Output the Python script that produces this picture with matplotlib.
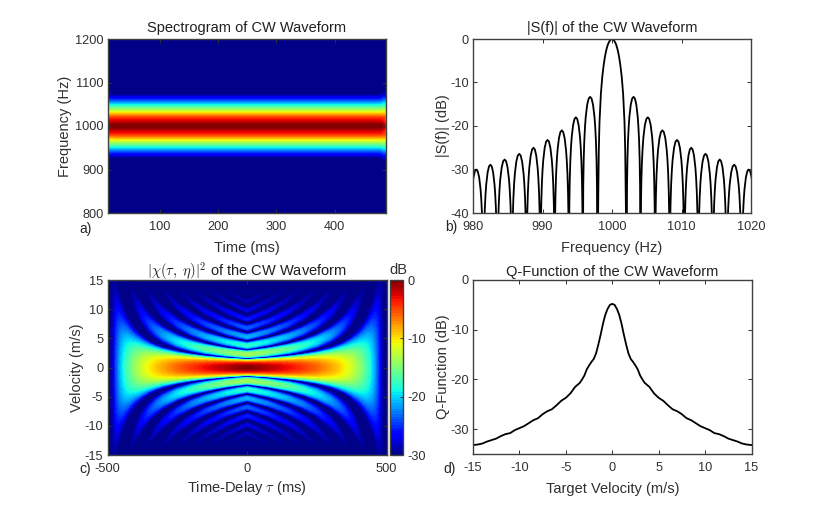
# CW waveform summary figure: spectrogram, spectrum, ambiguity map and Q-function
import numpy as np
import matplotlib
matplotlib.use("Agg")
from matplotlib import pyplot as plt

plt.rcParams['font.family'] = ['Liberation Sans', 'DejaVu Sans']
plt.rcParams['mathtext.fontset'] = 'cm'
plt.rcParams['font.size'] = 9
plt.rcParams['axes.linewidth'] = 1.0
plt.rcParams['axes.edgecolor'] = '#404040'
plt.rcParams['axes.unicode_minus'] = False

# a) spectrogram, level against distance from 1000 Hz
spec_offset_hz = [0, 5, 9, 17, 25, 32, 40, 47.6, 55, 63, 74, 100, 200]
spec_db = [0, -0.8, -2, -3.75, -7.5, -11.25, -15, -18.75, -22.5, -26.25, -30, -33, -40]
spec_time_ms = [10, 11.5, 14, 20, 478, 482, 485, 487.5]
spec_edge_db = [-1.5, -0.8, -0.2, 0, 0, -0.6, -1.5, -3.5]
spec_edge_width = [1.08, 1.05, 1.01, 1, 1, 1.05, 1.12, 1.22]

# b) spectrum, nulls and lobe peaks
main_null_hz = [998, 1002]
left_null_hz = [997.9, 995.8, 993.8, 991.75, 989.7, 987.7, 985.6, 983.5, 981.5, 979.45]
right_null_hz = [1002.1, 1004.1, 1006.2, 1008.3, 1010.4, 1012.4, 1014.5, 1016.5, 1018.65, 1020.7]
peak_db = [-13.3, -18, -21, -23.2, -25, -26.4, -27.7, -28.9, -30]
main_frac = [0, 0.1, 0.2, 0.3, 0.4, 0.5, 0.6, 0.7, 0.8, 0.9, 0.95, 0.98, 1.0]
main_drop = [0, -0.14, -0.6, -1.3, -2.4, -3.9, -6, -8.7, -12.6, -19.2, -25.6, -33.8, -39]
lobe_frac = [0, 0.03, 0.06, 0.1, 0.15, 0.2, 0.3, 0.4, 0.5, 0.6, 0.7, 0.8, 0.85, 0.9, 0.94, 0.97, 1.0]
lobe_drop = [-45, -20.5, -14.5, -10.2, -6.9, -4.6, -1.8, -0.4, 0, -0.4, -1.8, -4.6, -6.9, -10.2, -14.5, -20.5, -45]

# c) ambiguity map, read along the delay axis
delay_ms = [0, 25, 50, 75, 100, 150, 200, 250, 300, 325, 350, 375, 400, 420, 440, 455, 470, 480, 490, 500]
null_spacing = [1.5, 1.58, 1.67, 1.76, 1.88, 2.14, 2.5, 3.0, 3.75, 4.29, 5.0, 6.0, 7.5, 9.38, 12.5, 16.7, 25, 37.5, 75, 150]
ridge_top_db = [0, -0.45, -0.9, -1.4, -1.9, -3.1, -4.4, -6, -8, -9.1, -10.5, -12, -14, -16, -18.4, -21, -24.4, -28, -34, -60]
# sidelobe level against velocity
env_v = [0, 2.25, 3.75, 5.25, 6.75, 8.25, 9.75, 11.25, 12.75, 14.25, 20, 30, 60, 200, 1000]
env_db = [-8, -13.5, -17.9, -21, -23.5, -25.6, -27.2, -28.4, -29.3, -30, -33.5, -37, -43, -53, -67]
n_lobes = 10

# d) Q-function, positive velocities (the curve is mirrored about 0)
q_v = [0, 0.25, 0.5, 0.75, 1, 1.25, 1.5, 1.75, 2, 2.25, 2.5, 2.75, 3, 3.25, 3.5, 4, 4.5, 5, 5.5, 6,
       6.5, 7, 7.5, 8, 8.5, 9, 9.5, 10, 10.5, 11, 11.5, 12, 12.5, 13, 13.5, 14, 14.5, 15]
q_db = [-4.8, -5.0, -5.8, -7, -8.8, -11, -13, -14.8, -15.9, -16.5, -17.2, -18, -19.2, -20, -20.7, -21.5, -22.8, -23.7, -24.3, -25.2,
        -26, -26.4, -27, -27.8, -28.2, -28.8, -29.4, -29.8, -30.2, -30.8, -31, -31.4, -31.9, -32.2, -32.5, -32.9, -33.1, -33.2]

W, H = 830, 511
jet_levels = np.linspace(-30, 0, 65)


def box(left, top, right, bottom):
    # axes from pixel edges of the picture
    return fig.add_axes([left / W, 1 - bottom / H, (right - left) / W, (bottom - top) / H])


def style(ax, title, xlabel, ylabel, ylabel_px, title_pad=5, xlabel_pad=5.5):
    ax.tick_params(direction='in', length=3, width=0.7, top=True, right=True,
                   labelsize=9.2, colors='#303030')
    ax.tick_params(axis='x', pad=6)
    ax.tick_params(axis='y', pad=3)
    ax.set_title(title, fontsize=10.5, pad=title_pad, color='#202020')
    ax.set_xlabel(xlabel, fontsize=10.5, labelpad=xlabel_pad, color='#303030')
    ax.set_ylabel(ylabel, fontsize=10.5, color='#303030')
    bb = ax.get_position()
    ax.yaxis.set_label_coords((ylabel_px / W - bb.x0) / bb.width, 0.5)


fig = plt.figure(figsize=(W / 100, H / 100), dpi=100)

# a) ------------------------------------------------------------------
ax = box(107.5, 39, 385.5, 213)
off = np.array(spec_offset_hz, dtype=float)
rows = np.concatenate((-off[::-1], off[1:]))
lev = np.array(spec_db, dtype=float)
lev = np.concatenate((lev[::-1], lev[1:]))
T = np.array(spec_time_ms)[None, :] * np.ones((len(rows), 1))
F = 1000 + rows[:, None] * np.array(spec_edge_width)[None, :]
Z = lev[:, None] + np.array(spec_edge_db)[None, :]
ax.contourf(T, F, np.maximum(Z, -30), levels=jet_levels, cmap='jet')
ax.set_xlim(10, 487.5)
ax.set_ylim(800, 1200)
ax.set_xticks([100, 200, 300, 400])
ax.set_yticks([800, 900, 1000, 1100, 1200])
style(ax, 'Spectrogram of CW Waveform', 'Time (ms)', 'Frequency (Hz)', 72)

# b) ------------------------------------------------------------------
ax = box(473, 39, 751, 213)
m_frac = np.array(main_frac)
m_drop = np.array(main_drop)
l_frac = np.array(lobe_frac)
l_drop = np.array(lobe_drop)
f_parts = [1000 + m_frac[::-1][:-1] * (main_null_hz[0] - 1000), 1000 + m_frac * (main_null_hz[1] - 1000)]
d_parts = [m_drop[::-1][:-1], m_drop]
for i, p in enumerate(peak_db + [-30.5]):
    if i < len(left_null_hz) - 1:
        f_parts.insert(0, left_null_hz[i + 1] + l_frac * (left_null_hz[i] - left_null_hz[i + 1]))
        d_parts.insert(0, p + l_drop)
    if i < len(right_null_hz) - 1:
        f_parts.append(right_null_hz[i] + l_frac * (right_null_hz[i + 1] - right_null_hz[i]))
        d_parts.append(p + l_drop)
ax.plot(np.concatenate(f_parts), np.concatenate(d_parts), color='k', lw=1.3)
ax.set_xlim(980, 1020)
ax.set_ylim(-40, 0)
ax.set_xticks([980, 990, 1000, 1010, 1020])
ax.set_yticks([-40, -30, -20, -10, 0])
style(ax, '|S(f)| of the CW Waveform', 'Frequency (Hz)', '|S(f)| (dB)', 450)

# c) ------------------------------------------------------------------
ax = box(107.5, 280, 386.5, 455)
tau = np.array(delay_ms, dtype=float)
spacing = np.array(null_spacing)
top = np.array(ridge_top_db)
v_rows = [m_frac[:-1][:, None] * spacing[None, :]]
z_rows = [m_drop[:-1][:, None] + top[None, :]]
for k in range(1, n_lobes + 1):
    fr = l_frac if k == 1 else l_frac[1:]
    dr = l_drop if k == 1 else l_drop[1:]
    v_rows.append((k + fr)[:, None] * spacing[None, :])
    ridge = np.interp((k + 0.5) * spacing, env_v, env_db)
    z_rows.append(dr[:, None] + ridge[None, :])
V = np.vstack(v_rows)
Zc = np.vstack(z_rows)
# mirror to negative delay, then to negative velocity
V = np.hstack((V[:, ::-1], V[:, 1:]))
Zc = np.hstack((Zc[:, ::-1], Zc[:, 1:]))
D = np.concatenate((-tau[::-1], tau[1:]))
V = np.vstack((-V[:0:-1], V))
Zc = np.vstack((Zc[:0:-1], Zc))
D = D[None, :] * np.ones((V.shape[0], 1))
cf = ax.contourf(D, V, np.maximum(Zc, -30), levels=jet_levels, cmap='jet')
ax.set_xlim(-500, 500)
ax.set_ylim(-15, 15)
ax.set_xticks([-500, 0, 500])
ax.set_yticks([-15, -10, -5, 0, 5, 10, 15])
style(ax, r'$|\chi(\tau,\;\eta)|^2$ of the CW Waveform', r'Time-Delay $\tau$ (ms)', 'Velocity (m/s)', 84,
      title_pad=3, xlabel_pad=2.5)

cax = box(390, 280, 403, 455)
cb = fig.colorbar(cf, cax=cax)
cb.set_ticks([-30, -20, -10, 0])
cb.ax.tick_params(direction='in', length=2, width=0.7, pad=3, labelsize=9.2, colors='#303030')
cb.outline.set_linewidth(1.0)
cb.outline.set_edgecolor('#404040')
cax.text(-0.07, 1.015, 'dB', transform=cax.transAxes, ha='left', va='bottom', fontsize=10.5, color='#303030')

# d) ------------------------------------------------------------------
ax = box(473, 280, 751.5, 454)
qv = np.array(q_v)
qd = np.array(q_db)
ax.plot(np.concatenate((-qv[::-1], qv[1:])), np.concatenate((qd[::-1], qd[1:])), color='k', lw=1.3)
ax.set_xlim(-15, 15)
ax.set_ylim(-35, 0)
ax.set_xticks([-15, -10, -5, 0, 5, 10, 15])
ax.set_yticks([-30, -20, -10, 0])
style(ax, 'Q-Function of the CW Waveform', 'Target Velocity (m/s)', 'Q-Function (dB)', 450, title_pad=3)

# panel letters
for name, x, y in [('a)', 79, 229), ('b)', 445, 227), ('c)', 79, 469), ('d)', 443, 469)]:
    fig.text(x / W, 1 - y / H, name, fontsize=10, ha='left', va='center', color='#262626')

fig.savefig('out.png', dpi=100)
